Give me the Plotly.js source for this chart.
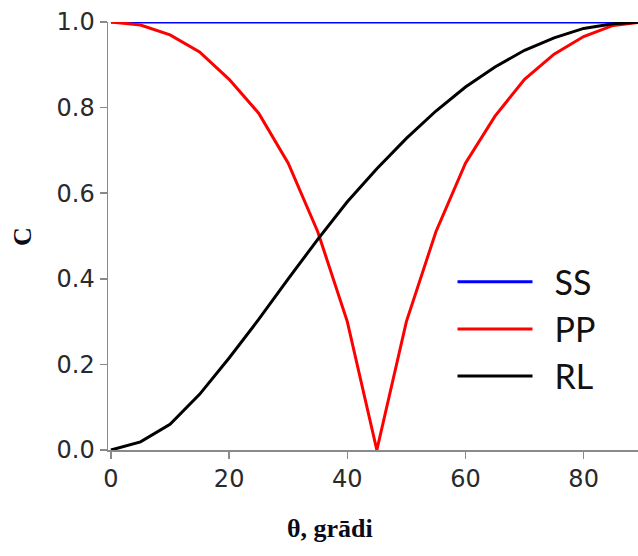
<!DOCTYPE html>
<html>
<head>
<meta charset="utf-8">
<script src="https://cdn.plot.ly/plotly-3.0.1.min.js"></script>
<style>html,body{margin:0;padding:0;background:#fff;}#chart{width:638px;height:556px;}</style>
</head>
<body>
<div id="chart"></div>
<script>
const theta = [0,5,10,15,20,25,30,35,40,45,50,55,60,65,70,75,80,85,90];
const ssValues = [1,1,1,1,1,1,1,1,1,1,1,1,1,1,1,1,1,1,1];
const ppValues = [1,0.993,0.97,0.93,0.866,0.787,0.67,0.51,0.30,0,0.30,0.51,0.67,0.78,0.866,0.925,0.966,0.992,1];
const rlValues = [0,0.019,0.06,0.13,0.215,0.305,0.40,0.492,0.58,0.657,0.728,0.792,0.848,0.895,0.934,0.963,0.985,0.996,1];
const seriesNames = ['SS','PP','RL'];
const xTicks = [0,20,40,60,80];
const yTicks = [0,0.2,0.4,0.6,0.8,1.0];
const yTickText = ['0.0','0.2','0.4','0.6','0.8','1.0'];

const lineW = 3;
const gap = '\u2002';
const traces = [
  {x: theta, y: ssValues, name: gap + seriesNames[0], mode: 'lines', line: {color: '#0000ff', width: lineW}, cliponaxis: false},
  {x: theta, y: ppValues, name: gap + seriesNames[1], mode: 'lines', line: {color: '#ff0000', width: lineW}, cliponaxis: false},
  {x: theta, y: rlValues, name: gap + seriesNames[2], mode: 'lines', line: {color: '#000000', width: lineW}, cliponaxis: false}
];

const layout = {
  width: 638, height: 556,
  margin: {l: 108, r: 0, t: 22, b: 106},
  paper_bgcolor: '#fff', plot_bgcolor: '#fff',
  showlegend: true,
  legend: {
    x: 0.65, y: 0.46, xanchor: 'left', yanchor: 'top',
    bgcolor: 'rgba(0,0,0,0)', borderwidth: 0,
    font: {family: 'Lato, sans-serif', size: 34, color: '#111'},
    itemwidth: 75, tracegroupgap: 0
  },
  xaxis: {
    range: [-0.5, 89.2], showgrid: false, zeroline: false,
    showline: true, linecolor: '#8a8a8a', linewidth: 1.5,
    ticks: 'outside', ticklen: 7, tickcolor: '#8a8a8a', tickwidth: 1.5,
    tickvals: xTicks, ticktext: xTicks.map(String),
    tickfont: {family: 'DejaVu Sans, sans-serif', size: 24, color: '#2a2a2a'},
    fixedrange: true
  },
  yaxis: {
    range: [0, 1], showgrid: false, zeroline: false,
    showline: true, linecolor: '#8a8a8a', linewidth: 1.5,
    ticks: 'outside', ticklen: 7, tickcolor: '#8a8a8a', tickwidth: 1.5,
    tickvals: yTicks, ticktext: yTickText,
    tickfont: {family: 'DejaVu Sans, sans-serif', size: 24, color: '#2a2a2a'},
    fixedrange: true
  },
  annotations: [
    {text: '<b>θ, grādi</b>', xref: 'paper', yref: 'paper', x: (330-108)/530, y: (450-528)/428,
     xanchor: 'center', yanchor: 'middle', showarrow: false,
     font: {family: 'Liberation Serif, serif', size: 26, color: '#0a0a1a'}},
    {text: '<b>C</b>', xref: 'paper', yref: 'paper', x: (23-108)/530, y: (450-237)/428,
     xanchor: 'center', yanchor: 'middle', showarrow: false, textangle: -90,
     font: {family: 'Liberation Serif, serif', size: 26, color: '#0a0a1a'}}
  ]
};

Plotly.newPlot('chart', traces, layout, {displayModeBar: false, staticPlot: true});
</script>
</body>
</html>
